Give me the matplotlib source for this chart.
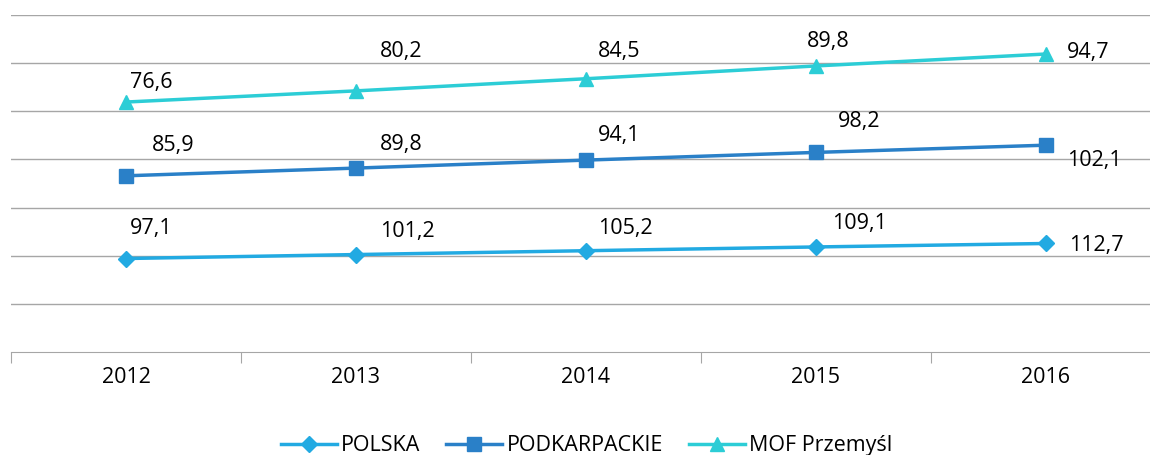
import numpy as np
import matplotlib.pyplot as plt

years = ['2012', '2013', '2014', '2015', '2016']
polska = [97.1, 101.2, 105.2, 109.1, 112.7]
podkarpackie = [85.9, 89.8, 94.1, 98.2, 102.1]
mof = [76.6, 80.2, 84.5, 89.8, 94.7]

# label placement (pixels from the point: left edge, vertical centre)
polska_off = [(4, 30), (24, 23), (12, 22), (16, 23), (23, -2)]
podk_off = [(26, 30), (24, 24), (12, 25), (22, 31), (21, -15)]
mof_off = [(4, 20), (24, 39), (12, 27), (-9, 24), (21, 1)]

series = [
    ('POLSKA', polska, polska_off, '#22aae2', 'D', 8),
    ('PODKARPACKIE', podkarpackie, podk_off, '#2a80c8', 's', 10),
    ('MOF Przemyśl', mof, mof_off, '#2ccdd6', '^', 10),
]

plt.rcParams['font.family'] = ['Open Sans', 'DejaVu Sans']
FS = 15.5

fig = plt.figure(figsize=(11.5, 4.55), dpi=100)
ax = fig.add_axes([11 / 1150, 1 - 352 / 455, 1150 / 1150, (352 - 15) / 455])

x = np.arange(len(years))
base = np.zeros(len(years))
for name, vals, offs, color, marker, ms in series:
    top = base + np.array(vals)
    ax.plot(x, top, color=color, lw=2.5, marker=marker, ms=ms, label=name, zorder=3)
    for i, v in enumerate(vals):
        lbl = f'{v:.1f}'.replace('.', ',')
        ax.annotate(lbl, (x[i], top[i]), xytext=offs[i], textcoords='offset pixels',
                    ha='left', va='center', fontsize=FS, color='black')
    base = top

ax.set_xlim(-0.5, len(years) - 0.5)
ax.set_ylim(0, 350)
ax.set_yticks(np.arange(50, 351, 50))
ax.yaxis.grid(True, color='#a6a6a6', lw=1)
ax.set_axisbelow(True)
ax.tick_params(axis='y', left=False, labelleft=False)
for s in ['top', 'right', 'left']:
    ax.spines[s].set_visible(False)
ax.spines['bottom'].set_color('#a6a6a6')

ax.set_xticks(np.arange(-0.5, len(years), 1.0))
ax.set_xticklabels([])
ax.tick_params(axis='x', length=8, color='#a6a6a6')
ax.set_xticks(x, minor=True)
ax.set_xticklabels(years, minor=True, fontsize=FS)
ax.tick_params(axis='x', which='minor', length=0, pad=11)

fig.legend(loc='center', bbox_to_anchor=(0.51, 0.02), ncol=3, frameon=False,
           fontsize=FS, handlelength=2.6, columnspacing=1.2, handletextpad=0.2)

fig.savefig('out.png', dpi=100)
